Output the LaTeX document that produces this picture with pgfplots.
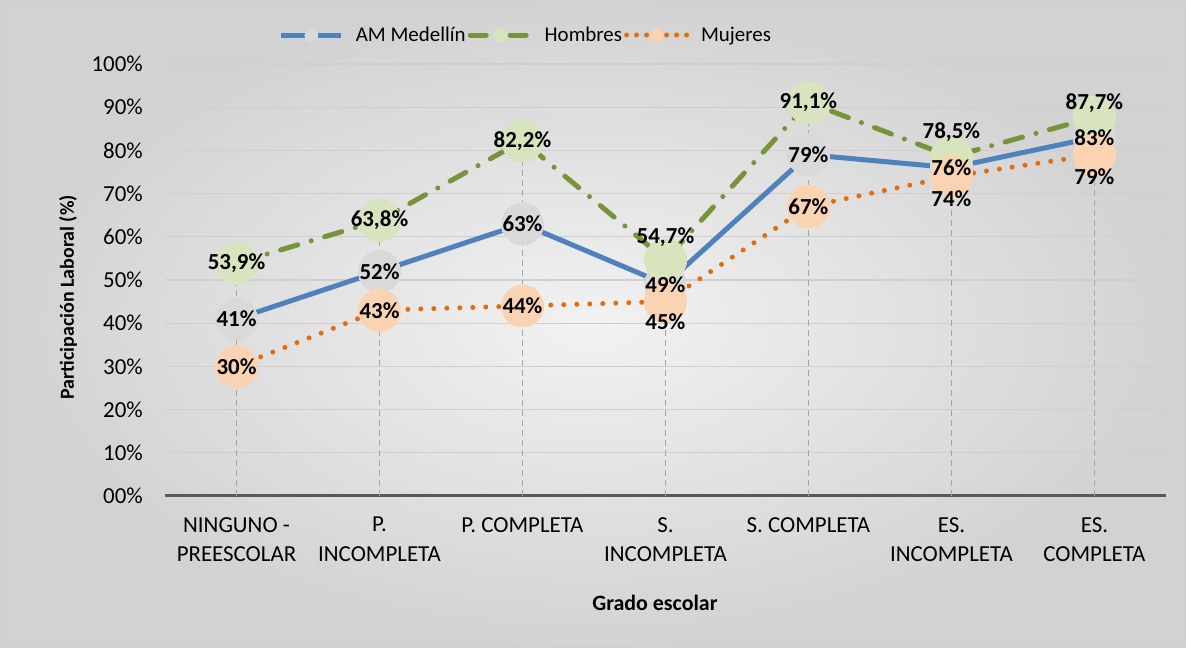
\documentclass[border=0pt]{standalone}
\usepackage{pgfplots}
\pgfplotsset{compat=1.18}
\usepackage{pgfplotstable}
\usepackage{fontspec}
\setmainfont{Carlito}
\definecolor{cblue}{HTML}{4F81BD}
\definecolor{cgreen}{HTML}{77933C}
\definecolor{corange}{HTML}{E46C0A}
\definecolor{mgray}{HTML}{D9D9D9}
\definecolor{mgreen}{HTML}{D7E4BD}
\definecolor{morange}{HTML}{FAD3B3}
\definecolor{gridc}{HTML}{CFCFCF}
\definecolor{dropc}{HTML}{A6A6A6}
\definecolor{axisc}{HTML}{595959}
\definecolor{bgin}{HTML}{F2F2F2}
\definecolor{bgout}{HTML}{D2D2D2}

\pgfplotstableread{
x y lab dy
0 41 41 0
1 52 52 0
2 63 63 0
3 49 49 0
4 79 79 0
5 76 76 0
6 83 83 0
}\medellin
\pgfplotstableread{
x y lab dy
0 53.9 53,9 0
1 63.8 63,8 0
2 82.2 82,2 0
3 54.7 54,7 23
4 91.1 91,1 0
5 78.5 78,5 25
6 87.7 87,7 14
}\hombres
\pgfplotstableread{
x y lab dy
0 30 30 0
1 43 43 0
2 44 44 0
3 45 45 -20
4 67 67 0
5 74 74 -22
6 79 79 -22
}\mujeres

\begin{document}
\begin{tikzpicture}
\shade[inner color=bgin, outer color=bgout] (0,0) rectangle (1186bp,648bp);
\draw[color=gridc, line width=1bp] (0.5bp,0.5bp) rectangle (1185.5bp,647.5bp);
\begin{axis}[
  at={(165bp,152bp)}, anchor=south west,
  scale only axis, width=1001bp, height=432bp,
  xmin=-0.5, xmax=6.5, ymin=0, ymax=100,
  clip=false,
  axis lines*=left,
  x axis line style={draw=axisc, line width=3bp},
  y axis line style={draw=none},
  xtick={0,...,6}, ytick={0,10,...,100},
  xticklabels={{NINGUNO -\\PREESCOLAR},{P.\\INCOMPLETA},{P. COMPLETA},{S.\\INCOMPLETA},{S. COMPLETA},{ES.\\INCOMPLETA},{ES.\\COMPLETA}},
  yticklabels={00\%,10\%,20\%,30\%,40\%,50\%,60\%,70\%,80\%,90\%,100\%},
  major tick length=0pt,
  ymajorgrids, grid style={gridc, line width=1.3bp},
  xticklabel style={font=\fontsize{23}{30}\selectfont, align=center, inner sep=0pt, anchor=north, yshift=-21bp},
  yticklabel style={font=\fontsize{23}{28}\selectfont, inner sep=0pt, anchor=east, xshift=-22bp},
  xlabel={Grado escolar}, ylabel={Participación Laboral (\%)},
  xlabel style={font=\fontsize{22}{26}\selectfont\bfseries, at={(axis description cs:0.4895,-0.2477)}, anchor=center},
  ylabel style={font=\fontsize{20}{24}\selectfont\bfseries, at={(axis description cs:-0.0969,0.46)}, anchor=center},
  legend image code/.code={\draw[mark repeat=2, mark phase=2, #1] plot coordinates {(0bp,0bp) (30bp,0bp) (60bp,0bp)};},
  legend style={at={(axis description cs:0.3606,1.067)}, anchor=center, draw=none, fill=none,
    font=\fontsize{21}{25}\selectfont, legend columns=3,
    /tikz/every odd column/.append style={column sep=10bp},
    nodes={inner xsep=2bp}},
]
\addlegendimage{cblue, line width=5bp, mark=*, mark size=6.5bp, mark options={line width=0bp, draw=mgray, fill=mgray}}
\addlegendentry{AM Medellín}
\addlegendimage{cgreen, line width=5bp, line cap=round, dash pattern=on 16bp off 12bp on 0bp off 12bp, mark=*, mark size=6.5bp, mark options={solid, line width=0bp, draw=mgreen, fill=mgreen}}
\addlegendentry{Hombres}
\addlegendimage{corange, line width=5bp, line cap=round, dash pattern=on 0bp off 10bp, mark=*, mark size=6.5bp, mark options={solid, line width=0bp, draw=morange, fill=morange}}
\addlegendentry{Mujeres}

\addplot[dropc, ycomb, line width=1.5bp, dash pattern=on 6bp off 4bp, forget plot] table[x=x,y=y]{\hombres};

\addplot[cblue, line width=5bp, mark=*, mark size=21bp, mark options={line width=0bp, draw=mgray, fill=mgray}, forget plot] table[x=x,y=y]{\medellin};
\addplot[cgreen, line width=5bp, line cap=round, dash pattern=on 18bp off 14bp on 0bp off 14bp, mark=*, mark size=21bp, mark options={solid, line width=0bp, draw=mgreen, fill=mgreen}, forget plot] table[x=x,y=y]{\hombres};
\addplot[corange, line width=5bp, line cap=round, dash pattern=on 0bp off 13bp, mark=*, mark size=21bp, mark options={solid, line width=0bp, draw=morange, fill=morange}, forget plot] table[x=x,y=y]{\mujeres};

\pgfplotsset{labstyle/.style={draw=none, forget plot, nodes near coords={\pgfplotspointmeta\%}, point meta=explicit symbolic,
  nodes near coords align={anchor=center},
  visualization depends on={\thisrow{dy}\as\dy},
  every node near coord/.append style={font=\fontsize{23}{27}\selectfont\bfseries, text=black, inner sep=0pt, anchor=center, yshift=\dy bp}}}
\addplot[labstyle] table[x=x,y=y,meta=lab]{\medellin};
\addplot[labstyle] table[x=x,y=y,meta=lab]{\hombres};
\addplot[labstyle] table[x=x,y=y,meta=lab]{\mujeres};
\end{axis}
\pgfresetboundingbox
\useasboundingbox (0,0) rectangle (1186bp,648bp);
\end{tikzpicture}
\end{document}
